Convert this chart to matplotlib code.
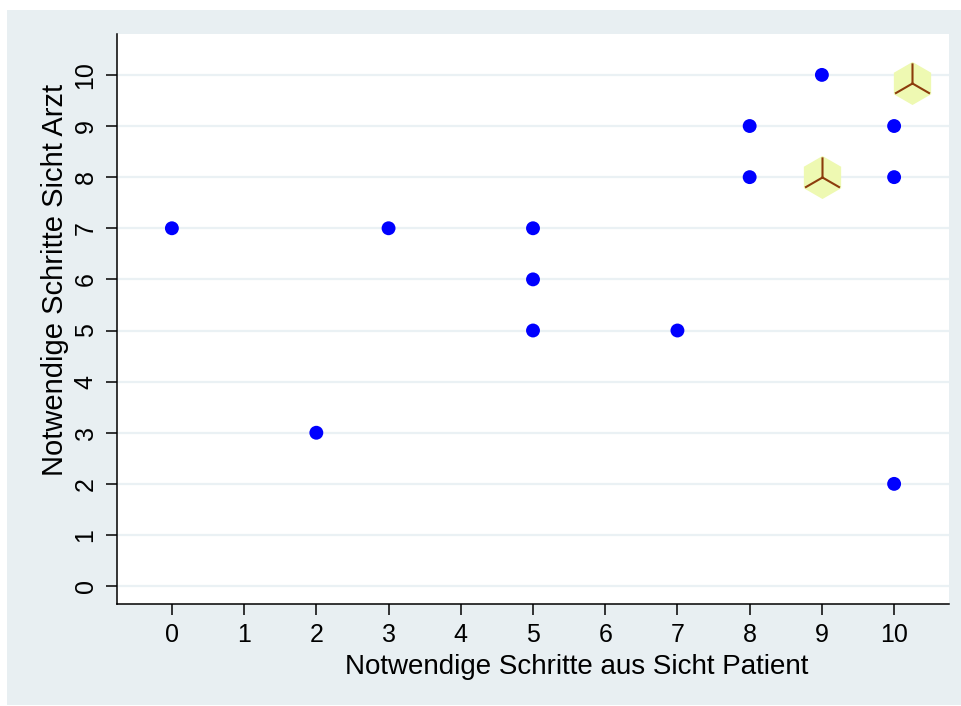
import matplotlib
matplotlib.use('Agg')
import matplotlib.pyplot as plt
from matplotlib.patches import Rectangle
from matplotlib.path import Path
import numpy as np

plt.rcParams['font.family'] = ['Liberation Sans', 'DejaVu Sans']

# Einzelbeobachtungen (Patient, Arzt)
patient = [0, 2, 3, 5, 5, 5, 7, 8, 8, 9, 10, 10, 10]
arzt = [7, 3, 7, 7, 6, 5, 5, 9, 8, 10, 9, 8, 2]

# Sonnenblumen (je 3 Beobachtungen)
sf_patient = [9, 10.25]
sf_arzt = [8, 9.85]

xticks = list(range(0, 11))
yticks = list(range(0, 11))

fig = plt.figure(figsize=(9.62, 7.06), dpi=100, facecolor='white')
fig.patches.append(Rectangle((7 / 962, 1 / 706), 954 / 962, 695 / 706,
                             transform=fig.transFigure, facecolor='#E8EFF2',
                             edgecolor='none', zorder=-10))

ax = fig.add_axes([117 / 962, 102 / 706, 832 / 962, 570 / 706])
ax.set_facecolor('white')

for y in yticks:
    ax.axhline(y, color='#EAF1F4', linewidth=1.6, zorder=1)

ax.scatter(patient, arzt, s=100, color='#0000FF', edgecolors='none', zorder=3)

# Sonnenblumen: Sechseck + 3 Blätter
ax.plot(sf_patient, sf_arzt, linestyle='none', marker='h', markersize=31,
        markerfacecolor='#EEF9B2', markeredgecolor='none', zorder=2)
petals = []
codes = []
for ang in [90, 210, 330]:
    a = np.deg2rad(ang)
    petals += [(0, 0), (np.cos(a), np.sin(a))]
    codes += [Path.MOVETO, Path.LINETO]
petal_marker = Path(petals, codes)
ax.plot(sf_patient, sf_arzt, linestyle='none', marker=petal_marker, markersize=29,
        markerfacecolor='none', markeredgecolor='#8C3C0C', markeredgewidth=1.5, zorder=4)

ax.set_xlim(-0.76, 10.76)
ax.set_ylim(-0.35, 10.8)
ax.set_xticks(xticks)
ax.set_yticks(yticks)

ax.spines['top'].set_visible(False)
ax.spines['right'].set_visible(False)
for s in ['left', 'bottom']:
    ax.spines[s].set_linewidth(1.1)

ax.tick_params(axis='both', length=8, width=1.1, labelsize=18, color='black')
ax.tick_params(axis='x', pad=6)
ax.tick_params(axis='y', pad=6)
for lab in ax.get_yticklabels():
    lab.set_rotation(90)
    lab.set_va('center')
    lab.set_ha('right')

fig.text(577 / 962, 1 - 667 / 706, 'Notwendige Schritte aus Sicht Patient',
         fontsize=20, ha='center', va='center')
fig.text(55 / 962, 1 - 280 / 706, 'Notwendige Schritte Sicht Arzt',
         fontsize=21, ha='center', va='center', rotation=90)

fig.savefig('out.png', dpi=100, facecolor='white')
